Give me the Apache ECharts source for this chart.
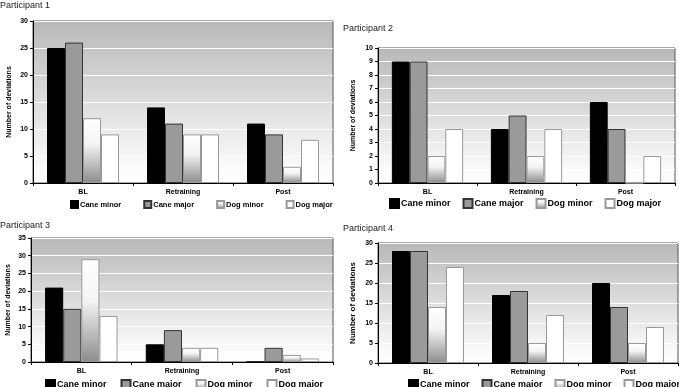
<!DOCTYPE html>
<html>
<head>
<meta charset="utf-8">
<script src="https://cdn.jsdelivr.net/npm/echarts@6/dist/echarts.min.js"></script>
<style>
  html, body { margin: 0; padding: 0; background: #fff; }
  #chart { width: 679px; height: 387px; }
</style>
</head>
<body>
<div id="chart"></div>
<script>
const phases = ['BL', 'Retraining', 'Post']
const seriesNames = ['Cane minor', 'Cane major', 'Dog minor', 'Dog major']

// number of deviations per participant, one array per series
const p1CaneMinor = [25, 14, 11]
const p1CaneMajor = [26, 11, 9]
const p1DogMinor = [12, 9, 3]
const p1DogMajor = [9, 9, 8]

const p2CaneMinor = [9, 4, 6]
const p2CaneMajor = [9, 5, 4]
const p2DogMinor = [2, 2, 0]
const p2DogMajor = [4, 4, 2]

const p3CaneMinor = [21, 5, 0]
const p3CaneMajor = [15, 9, 4]
const p3DogMinor = [29, 4, 2]
const p3DogMajor = [13, 4, 1]

const p4CaneMinor = [28, 17, 20]
const p4CaneMajor = [28, 18, 14]
const p4DogMinor = [14, 5, 5]
const p4DogMajor = [24, 12, 9]

const yMax = [30, 10, 35, 30]
const yStep = [5, 1, 5, 5]

const panels = [
  [p1CaneMinor, p1CaneMajor, p1DogMinor, p1DogMajor],
  [p2CaneMinor, p2CaneMajor, p2DogMinor, p2DogMajor],
  [p3CaneMinor, p3CaneMajor, p3DogMinor, p3DogMajor],
  [p4CaneMinor, p4CaneMajor, p4DogMinor, p4DogMajor]
]

// plot area boxes
const grids = [
  { left: 33, top: 21, width: 300, height: 162 },
  { left: 378, top: 48, width: 297, height: 135 },
  { left: 31, top: 238, width: 302, height: 124 },
  { left: 378, top: 243, width: 300, height: 120 }
]
const titles = [
  { text: 'Participant 1', left: 0, top: 1 },
  { text: 'Participant 2', left: 343, top: 24 },
  { text: 'Participant 3', left: 0, top: 221 },
  { text: 'Participant 4', left: 343, top: 224 }
]
const legendPos = [
  { left: 70, top: 200, gap: 22, size: 7, font: 7.5 },
  { left: 389, top: 198, gap: 12, size: 9, font: 9 },
  { left: 45, top: 379, gap: 14, size: 9, font: 9 },
  { left: 408, top: 379, gap: 12, size: 9, font: 9 }
]
const nameGap = [20, 21, 19, 21]
const nameSize = [7, 7, 7, 8]

const styles = [
  { color: '#000', borderColor: '#000', borderWidth: 1 },
  { color: '#9a9a9a', borderColor: '#333', borderWidth: 1 },
  {
    color: new echarts.graphic.LinearGradient(0, 0, 0, 1, [
      { offset: 0, color: '#ffffff' },
      { offset: 0.4, color: '#f4f4f4' },
      { offset: 1, color: '#8c8c8c' }
    ]),
    borderColor: '#999', borderWidth: 1
  },
  { color: '#fff', borderColor: '#999', borderWidth: 1 }
]

const bgGradient = new echarts.graphic.LinearGradient(0, 0, 0, 1, [
  { offset: 0, color: '#b8b8b8' },
  { offset: 0.9, color: '#fbfbfb' },
  { offset: 1, color: '#ffffff' }
])

const option = {
  animation: false,
  textStyle: { fontFamily: 'Liberation Sans, Arial, sans-serif' },
  title: titles.map((t) => ({
    text: t.text,
    left: t.left,
    top: t.top,
    padding: 0,
    textStyle: { fontSize: 9, fontWeight: 'normal', color: '#222' }
  })),
  legend: legendPos.map((l) => ({
    data: seriesNames,
    left: l.left,
    top: l.top,
    width: 340,
    padding: 0,
    itemGap: l.gap,
    itemWidth: l.size,
    itemHeight: l.size,
    icon: 'rect',
    selectedMode: false,
    textStyle: { fontSize: l.font, fontWeight: 'bold', color: '#000', padding: [0, 0, 0, -3] }
  })),
  grid: grids.map((g) => ({
    ...g,
    show: true,
    backgroundColor: bgGradient,
    borderColor: '#555',
    borderWidth: 1
  })),
  xAxis: grids.map((g, i) => ({
    type: 'category',
    gridIndex: i,
    data: phases,
    axisLine: { lineStyle: { color: '#000' } },
    axisTick: { show: true, length: 3, lineStyle: { color: '#000' } },
    axisLabel: { fontSize: 7, fontWeight: 'bold', color: '#000', margin: 6 }
  })),
  yAxis: grids.map((g, i) => ({
    type: 'value',
    gridIndex: i,
    min: 0,
    max: yMax[i],
    interval: yStep[i],
    name: 'Number of deviations',
    nameLocation: 'middle',
    nameGap: nameGap[i],
    nameTextStyle: { fontSize: nameSize[i], fontWeight: 'bold', color: '#000' },
    axisLine: { show: true, lineStyle: { color: '#000' } },
    axisTick: { show: true, length: 3, lineStyle: { color: '#000' } },
    axisLabel: { fontSize: 7, fontWeight: 'bold', color: '#000', margin: 5 },
    splitLine: { lineStyle: { color: '#fff', width: 1 } }
  })),
  series: []
}

panels.forEach((data, i) => {
  data.forEach((values, k) => {
    option.series.push({
      name: seriesNames[k],
      type: 'bar',
      xAxisIndex: i,
      yAxisIndex: i,
      data: values,
      barGap: '0%',
      barCategoryGap: '28%',
      itemStyle: styles[k]
    })
  })
})

const chart = echarts.init(document.getElementById('chart'))
chart.setOption(option)
</script>
</body>
</html>
